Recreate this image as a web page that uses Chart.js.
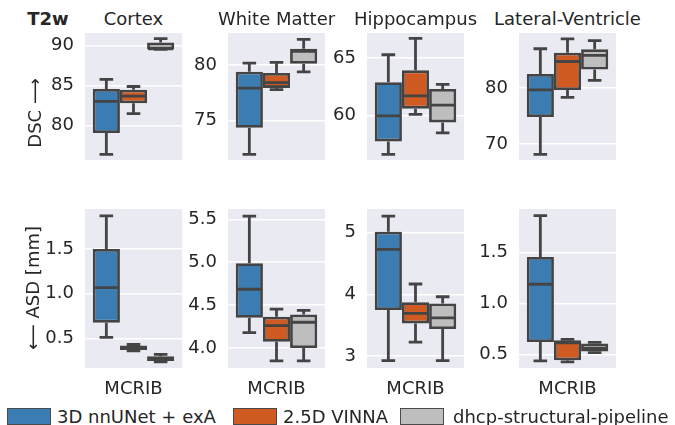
<!DOCTYPE html>
<html>
<head>
<meta charset="utf-8">
<script src="https://cdn.jsdelivr.net/npm/chart.js@4.4.1/dist/chart.umd.min.js"></script>
<style>
  body { margin: 0; background: #fff; }
  #wrap { position: relative; width: 675px; height: 425px; overflow: hidden; font-family: 'DejaVu Sans', sans-serif; color: #262626; }
  canvas { position: absolute; }
  .txt { position: absolute; font-size: 18px; white-space: nowrap; transform: translate(-50%, -50%); }
  .ylab { position: absolute; font-size: 18px; white-space: nowrap; transform: translate(-50%, -50%) rotate(-90deg); }
  .patch { position: absolute; width: 42px; height: 15px; border: 1px solid #4a4a4a; }
  .leg { position: absolute; font-size: 18px; white-space: nowrap; transform: translateY(-50%); }
</style>
</head>
<body>
<div id="wrap"></div>
<script>
// Data (five-number summaries: low whisker, Q1, median, Q3, high whisker)
const structures = ['Cortex', 'White Matter', 'Hippocampus', 'Lateral-Ventricle'];
const methods = ['3D nnUNet + exA', '2.5D VINNA', 'dhcp-structural-pipeline'];
const category = ['MCRIB'];

const dscNnunet = [[76.4, 79.07, 83.05, 84.6, 85.8], [71.95, 74.35, 77.93, 79.4, 80.19], [56.66, 57.79, 60.0, 62.9, 65.28], [68.16, 74.8, 79.63, 82.47, 86.97]];
const dscVinna  = [[81.5, 82.8, 83.7, 84.5, 84.9], [77.8, 77.95, 78.43, 79.3, 80.26], [60.12, 60.62, 61.73, 63.93, 66.7], [78.3, 79.63, 84.7, 86.26, 88.73]];
const dscDhcp   = [[89.55, 89.55, 89.6, 90.4, 90.9], [79.4, 80.12, 81.25, 81.48, 82.33], [58.53, 59.43, 60.93, 62.32, 62.71], [81.34, 83.27, 85.79, 86.88, 88.4]];

const asdNnunet = [[0.51, 0.675, 1.067, 1.5, 1.87], [4.18, 4.352, 4.685, 4.988, 5.538], [2.93, 3.747, 4.726, 5.01, 5.262], [0.44, 0.624, 1.188, 1.454, 1.858]];
const asdVinna  = [[0.36, 0.37, 0.395, 0.42, 0.43], [3.85, 4.073, 4.26, 4.364, 4.453], [3.226, 3.53, 3.69, 3.87, 4.166], [0.43, 0.445, 0.615, 0.64, 0.65]];
const asdDhcp   = [[0.235, 0.245, 0.265, 0.30, 0.32], [3.85, 4.0, 4.3, 4.39, 4.438], [2.93, 3.44, 3.62, 3.85, 3.96], [0.52, 0.53, 0.565, 0.61, 0.62]];

const dscTicks = [['80', '85', '90'], ['75', '80'], ['60', '65'], ['70', '80']];
const asdTicks = [['0.5', '1.0', '1.5'], ['4.0', '4.5', '5.0', '5.5'], ['3', '4', '5'], ['0.5', '1.0', '1.5']];
const dscRange = [[75.7, 91.6], [71.45, 82.9], [56.18, 67.16], [67.16, 89.77]];
const asdRange = [[0.167, 1.948], [3.767, 5.62], [2.81, 5.376], [0.37, 1.923]];

// Styling / layout
const colors = ['#3b7db2', '#cf5b22', '#bebebe'];
const lineColor = '#444444';
const panelLeft = [85, 228, 367, 519];
const panelW = 97;
const panelH = 159;
const rowTop = [33, 209];
const margin = 60;
const FONT = { family: 'DejaVu Sans', size: 18 };

const wrap = document.getElementById('wrap');

const boxPlugin = {
  id: 'boxes',
  beforeDraw(chart) {
    const a = chart.chartArea, ctx = chart.ctx;
    ctx.save();
    ctx.fillStyle = '#eaeaf2';
    ctx.fillRect(a.left, a.top, a.right - a.left, a.bottom - a.top);
    ctx.restore();
  },
  afterDatasetsDraw(chart) {
    const ctx = chart.ctx, y = chart.scales.y;
    ctx.save();
    ctx.strokeStyle = lineColor;
    ctx.lineWidth = 2.8;
    ctx.lineCap = 'butt';
    chart.data.datasets.forEach((ds, i) => {
      const bar = chart.getDatasetMeta(i).data[0];
      const [lo, q1, med, q3, hi] = ds.stats;
      const x = bar.x, half = bar.width / 2, cap = bar.width / 4;
      const p = v => y.getPixelForValue(v);
      ctx.beginPath();
      ctx.moveTo(x, p(q3)); ctx.lineTo(x, p(hi));
      ctx.moveTo(x, p(q1)); ctx.lineTo(x, p(lo));
      ctx.moveTo(x - cap, p(hi)); ctx.lineTo(x + cap, p(hi));
      ctx.moveTo(x - cap, p(lo)); ctx.lineTo(x + cap, p(lo));
      ctx.moveTo(x - half + 1, p(med)); ctx.lineTo(x + half - 1, p(med));
      ctx.stroke();
    });
    ctx.restore();
  }
};

function makePanel(col, row, seriesList, ticks, range) {
  const canvas = document.createElement('canvas');
  const h = panelH + (row === 1 ? 32 : 0);
  canvas.width = panelW + margin;
  canvas.height = h;
  canvas.style.left = (panelLeft[col] - margin) + 'px';
  canvas.style.top = rowTop[row] + 'px';
  wrap.appendChild(canvas);

  const datasets = seriesList.map((s, k) => ({
    label: methods[k],
    data: [[s[col][1], s[col][3]]],
    stats: s[col],
    backgroundColor: colors[k],
    borderColor: lineColor,
    borderWidth: 2.8,
    borderSkipped: false,
    categoryPercentage: 0.84,
    barPercentage: 1.0
  }));

  new Chart(canvas.getContext('2d'), {
    type: 'bar',
    data: { labels: category, datasets },
    options: {
      responsive: false,
      animation: false,
      devicePixelRatio: 1,
      layout: { padding: 0 },
      plugins: { legend: { display: false }, tooltip: { enabled: false } },
      scales: {
        x: {
          display: row === 1,
          grid: { display: false },
          border: { display: false },
          ticks: { font: FONT, color: '#262626', padding: 3 },
          afterFit: s => { s.height = 32; s.paddingLeft = 0; s.paddingRight = 0; }
        },
        y: {
          min: range[col][0],
          max: range[col][1],
          grid: { color: '#ffffff', lineWidth: 1.5, drawTicks: false },
          border: { display: false },
          ticks: {
            font: FONT, color: '#262626', padding: 11,
            callback: v => ticks[col].find(t => Math.abs(parseFloat(t) - v) < 1e-9) || ''
          },
          afterBuildTicks: s => { s.ticks = ticks[col].map(t => ({ value: parseFloat(t) })); },
          afterFit: s => { s.width = margin; s.paddingTop = 0; s.paddingBottom = 0; }
        }
      }
    },
    plugins: [boxPlugin]
  });
}

for (let c = 0; c < 4; c++) {
  makePanel(c, 0, [dscNnunet, dscVinna, dscDhcp], dscTicks, dscRange);
  makePanel(c, 1, [asdNnunet, asdVinna, asdDhcp], asdTicks, asdRange);
}

// Text: titles, row labels, legend
function addText(cls, text, x, y, extra) {
  const d = document.createElement('div');
  d.className = cls;
  d.textContent = text;
  d.style.left = x + 'px';
  d.style.top = y + 'px';
  if (extra) Object.assign(d.style, extra);
  wrap.appendChild(d);
}

structures.forEach((s, c) => addText('txt', s, panelLeft[c] + panelW / 2, 18));
addText('txt', 'T2w', 48, 18, { fontWeight: 'bold' });
addText('ylab', 'DSC \u27F6', 34, 113);
addText('ylab', '\u27F5 ASD [mm]', 32, 288);

const patchX = [7, 233, 400];
const textX = [57, 283, 453];
methods.forEach((m, k) => {
  const p = document.createElement('div');
  p.className = 'patch';
  p.style.left = patchX[k] + 'px';
  p.style.top = '408px';
  p.style.background = colors[k];
  wrap.appendChild(p);
  addText('leg', m, textX[k], 416);
});
</script>
</body>
</html>
